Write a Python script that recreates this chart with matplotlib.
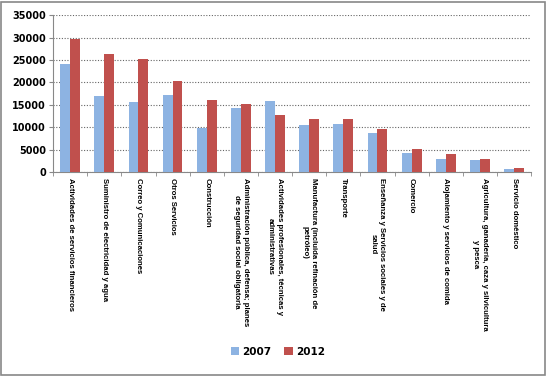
import numpy as np
import matplotlib.pyplot as plt
from matplotlib.patches import Rectangle

sectores = [
    'Actividades de servicios financieros',
    'Suministro de electricidad y agua',
    'Correo y Comunicaciones',
    'Otros Servicios',
    'Construcción',
    'Administración pública, defensa; planes\nde seguridad social obligatoria',
    'Actividades profesionales, técnicas y\nadministrativas',
    'Manufactura (incluida refinación de\npetróleo)',
    'Transporte',
    'Enseñanza y Servicios sociales y de\nsalud',
    'Comercio',
    'Alojamiento y servicios de comida',
    'Agricultura, ganadería, caza y silvicultura\ny pesca',
    'Servicio doméstico',
]
v2007 = [24100, 17000, 15600, 17200, 9900, 14200, 15800, 10400, 10800, 8600, 4300, 2900, 2700, 700]
v2012 = [29600, 26300, 25200, 20300, 16100, 15100, 12700, 11800, 11800, 9500, 5200, 4000, 2900, 800]

azul = '#8DB3E2'
rojo = '#C0504D'

fig = plt.figure(figsize=(5.47, 3.76), dpi=100)
ax = fig.add_axes([0.097, 0.5426, 0.874, 0.417])

x = np.arange(len(sectores))
w = 0.29
ax.bar(x - w/2, v2007, w, color=azul, label='2007', zorder=3)
ax.bar(x + w/2, v2012, w, color=rojo, label='2012', zorder=3)

ax.set_xlim(-0.5, len(sectores) - 0.5)
ax.set_ylim(0, 35000)
ax.set_yticks(range(0, 35001, 5000))
ax.set_yticklabels([str(v) for v in range(0, 35001, 5000)],
                   fontsize=7, fontweight='bold', family='DejaVu Sans')
ax.yaxis.grid(True, linestyle=(0, (1, 1.5)), color='#666666', linewidth=0.8, zorder=0)

# etiquetas del eje x (centradas por linea)
ax.set_xticks(x)
ax.set_xticklabels([''] * len(sectores))
for i, lbl in enumerate(sectores):
    ax.annotate(lbl, xy=(x[i], 0), xycoords=('data', 'axes fraction'),
                xytext=(0, -4), textcoords='offset points',
                rotation=270, ha='center', va='top', multialignment='center',
                fontsize=5.6, fontweight='bold', linespacing=1.4,
                family=['Liberation Sans', 'DejaVu Sans'])
ax.set_xticks(np.arange(-0.5, len(sectores), 1), minor=True)
ax.tick_params(axis='x', which='major', length=0)
ax.tick_params(axis='x', which='minor', length=3, color='#888888')
ax.tick_params(axis='y', length=3, color='#888888', pad=2)

for s in ['top', 'right']:
    ax.spines[s].set_visible(False)
for s in ['left', 'bottom']:
    ax.spines[s].set_color('#888888')

fig.legend(loc='center', bbox_to_anchor=(0.508, 0.064), ncol=2, frameon=False,
           prop={'size': 7.5, 'weight': 'bold', 'family': 'DejaVu Sans'},
           handlelength=0.8, handleheight=0.8, columnspacing=1.2, handletextpad=0.3)

fig.patches.append(Rectangle((0.002, 0.003), 0.995, 0.993, transform=fig.transFigure,
                             fill=False, edgecolor='#888888', linewidth=1.2))

fig.savefig('out.png', dpi=100)
